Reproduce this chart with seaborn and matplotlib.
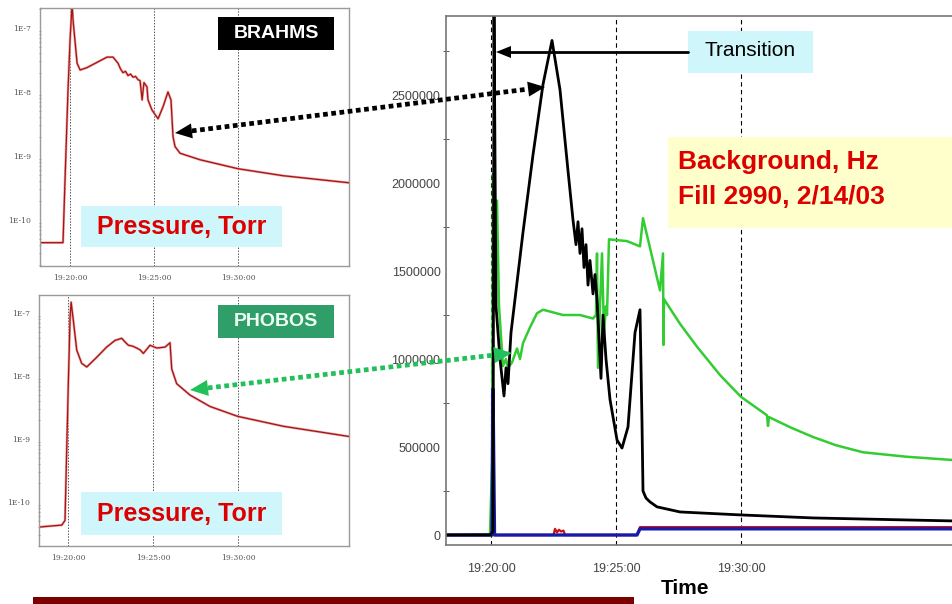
import numpy as np
import pandas as pd
import matplotlib
matplotlib.use("Agg")
import matplotlib.pyplot as plt
from matplotlib.patches import Rectangle, Polygon
from matplotlib.ticker import FixedLocator, FixedFormatter, MultipleLocator, LogLocator, NullFormatter
import seaborn as sns

# ---------------- data (time = minutes after 19:00) ----------------
brahms_t = [18.21, 19.52, 19.58, 19.70, 19.88, 20.00, 20.12, 20.18, 20.42, 20.60, 21.01, 21.61,
            22.20, 22.56, 22.86, 23.00, 23.15, 23.30, 23.45, 23.60, 23.75, 23.90, 24.05, 24.17,
            24.29, 24.40, 24.58, 24.64, 24.88, 25.24, 25.54, 25.83, 26.01, 26.13, 26.25, 26.55,
            27.74, 30.00, 32.68, 36.61]
brahms_p = [4.4e-11, 4.4e-11, 4.4e-11, 4.2e-10, 1.1e-8, 6.5e-8, 2.4e-7, 1.3e-7, 2.8e-8, 2.2e-8,
            2.4e-8, 2.9e-8, 3.5e-8, 3.5e-8, 2.8e-8, 2.3e-8, 2.0e-8, 2.1e-8, 1.8e-8, 1.9e-8,
            1.7e-8, 1.75e-8, 1.55e-8, 1.5e-8, 7.5e-9, 1.4e-8, 1.2e-8, 7.5e-9, 5.2e-9, 3.8e-9,
            5.9e-9, 1.0e-8, 7.5e-9, 2.0e-9, 1.4e-9, 1.1e-9, 8.7e-10, 6.3e-10, 4.9e-10, 3.8e-10]

phobos_t = [18.29, 19.63, 19.82, 19.92, 20.02, 20.12, 20.18, 20.31, 20.51, 20.80, 21.10, 21.69,
            22.27, 22.76, 23.16, 23.35, 23.55, 23.80, 24.04, 24.25, 24.43, 24.82, 25.22, 25.71,
            26.00, 26.10, 26.39, 27.18, 28.35, 29.98, 32.66, 36.53]
phobos_p = [4.0e-11, 4.3e-11, 5.1e-11, 6.7e-10, 8.6e-9, 8.7e-8, 1.5e-7, 7.7e-8, 2.6e-8, 1.6e-8,
            1.4e-8, 2.0e-8, 2.9e-8, 3.7e-8, 4.0e-8, 3.5e-8, 3.1e-8, 3.0e-8, 2.8e-8, 2.6e-8,
            2.3e-8, 3.1e-8, 2.8e-8, 2.9e-8, 3.4e-8, 1.3e-8, 7.6e-9, 5.0e-9, 3.3e-9, 2.3e-9,
            1.6e-9, 1.1e-9]

black_t = [18.20, 19.96, 20.08, 20.12, 20.20, 20.36, 20.52, 20.60, 20.68, 20.80, 20.96, 21.28,
           21.68, 22.08, 22.44, 22.76, 23.08, 23.28, 23.40, 23.48, 23.56, 23.64, 23.72, 23.80,
           23.88, 23.96, 24.08, 24.16, 24.24, 24.40, 24.48, 24.60, 24.76, 25.04, 25.24, 25.48,
           25.76, 25.96, 26.04, 26.08, 26.20, 26.36, 26.64, 27.56, 30.00, 32.88, 35.16, 38.48]
black_v = [0, 0, 20000, 3000000, 1300000, 1000000, 790000, 950000, 860000, 1150000, 1340000,
           1720000, 2160000, 2560000, 2810000, 2530000, 2070000, 1790000, 1650000, 1780000,
           1600000, 1740000, 1520000, 1650000, 1420000, 1560000, 1370000, 1480000, 1340000,
           890000, 1250000, 1000000, 770000, 540000, 494000, 614000, 1150000, 1280000, 640000,
           250000, 210000, 188000, 160000, 131000, 114000, 97000, 90000, 80000]

green_t = [18.20, 19.96, 20.04, 20.08, 20.16, 20.24, 20.32, 20.48, 20.60, 20.68, 20.84, 21.04,
           21.16, 21.28, 21.56, 21.84, 22.08, 22.88, 23.56, 24.08, 24.20, 24.24, 24.28, 24.36,
           24.44, 24.52, 24.60, 24.64, 24.72, 25.44, 25.96, 26.08, 26.76, 26.88, 26.90, 26.92,
           27.56, 28.24, 29.16, 30.00, 31.04, 31.08, 31.12, 32.00, 32.88, 33.80, 34.88, 36.60,
           38.48]
green_v = [0, 5000, 400000, 2050000, 1600000, 1900000, 1300000, 960000, 1000000, 950000, 980000,
           1060000, 1000000, 1090000, 1180000, 1260000, 1280000, 1250000, 1250000, 1230000,
           1250000, 1600000, 950000, 1300000, 1600000, 1150000, 1300000, 1250000, 1680000,
           1670000, 1640000, 1800000, 1390000, 1600000, 1080000, 1340000, 1200000, 1070000,
           909000, 785000, 680000, 620000, 670000, 610000, 557000, 510000, 470000, 445000,
           426000]

blue_t = [18.20, 20.04, 20.08, 20.14, 25.84, 25.96, 38.48]
blue_v = [0, 0, 830000, 0, 0, 35000, 35000]

red_t = [18.20, 22.50, 22.56, 22.64, 22.72, 22.80, 22.90, 22.96, 25.84, 25.96, 38.48]
red_v = [0, 0, 35000, 15000, 30000, 20000, 25000, 0, 0, 45000, 45000]

time_ticks = [20, 25, 30]
time_labels = ["19:20:00", "19:25:00", "19:30:00"]
rate_ticks = [0, 500000, 1000000, 1500000, 2000000, 2500000]
rate_labels = ["0", "500000", "1000000", "1500000", "2000000", "2500000"]
pressure_ticks = [1e-10, 1e-9, 1e-8, 1e-7]
pressure_labels = ["1E-10", "1E-9", "1E-8", "1E-7"]

# ---------------- figure ----------------
sns.set_style("white")
plt.rcParams['font.family'] = ['Liberation Sans', 'DejaVu Sans']

W, H = 953, 604
fig = plt.figure(figsize=(W / 100, H / 100), dpi=100)
fig.patch.set_facecolor("white")


def box(l, t, r, b):
    return [l / W, (H - b) / H, (r - l) / W, (b - t) / H]


def small_panel(rect, t, p, xlim, ylim):
    ax = fig.add_axes(rect)
    df = pd.DataFrame({"t": t, "p": p})
    ax.set_yscale("log")
    sns.lineplot(data=df, x="t", y="p", estimator=None, sort=False,
                 color="#f2a0a0", lw=1.8, ax=ax)
    sns.lineplot(data=df, x="t", y="p", estimator=None, sort=False,
                 color="#a01515", lw=0.9, ax=ax)
    ax.set_xlim(*xlim)
    ax.set_ylim(*ylim)
    for tt in time_ticks:
        ax.axvline(tt, color="#555555", lw=0.7, ls=(0, (1.5, 1.5)), zorder=0)
    ax.xaxis.set_major_locator(FixedLocator(time_ticks))
    ax.xaxis.set_major_formatter(FixedFormatter(time_labels))
    ax.yaxis.set_major_locator(FixedLocator(pressure_ticks))
    ax.yaxis.set_major_formatter(FixedFormatter(pressure_labels))
    ax.yaxis.set_minor_locator(LogLocator(base=10, subs=np.arange(2, 10)))
    ax.yaxis.set_minor_formatter(NullFormatter())
    ax.tick_params(axis="both", which="major", labelsize=5.5, colors="#555555",
                   length=3, width=0.6, direction="inout", pad=5)
    ax.tick_params(axis="y", which="minor", length=2, width=0.5, color="#777777",
                   direction="inout", left=True)
    ax.tick_params(axis="x", which="major", pad=4)
    for lab in ax.get_xticklabels() + ax.get_yticklabels():
        lab.set_family(["DejaVu Serif"])
    for s in ax.spines.values():
        s.set_color("#9a9a9a")
        s.set_linewidth(1.0)
    ax.set_xlabel("")
    ax.set_ylabel("")
    ax.set_facecolor("white")
    return ax


ax_b = small_panel(box(40, 8, 349, 266), brahms_t, brahms_p, (18.21, 36.61), (1.9e-11, 2.05e-7))
ax_p = small_panel(box(39, 295, 349, 546), phobos_t, phobos_p, (18.29, 36.53), (2.0e-11, 1.95e-7))

# main panel
ax = fig.add_axes(box(446, 16, 960, 545))
for tt in time_ticks:
    ax.axvline(tt, color="black", lw=0.8, ls=(0, (4, 3)), zorder=0)
sns.lineplot(x=red_t, y=red_v, estimator=None, sort=False, color="#cc1111", lw=1.6, ax=ax)
sns.lineplot(x=green_t, y=green_v, estimator=None, sort=False, color="#33cc33", lw=1.8, ax=ax)
sns.lineplot(x=blue_t, y=blue_v, estimator=None, sort=False, color="#1a1aaa", lw=2.4, ax=ax)
sns.lineplot(x=black_t, y=black_v, estimator=None, sort=False, color="black", lw=2.0, ax=ax)
ax.set_xlim(18.2, 38.76)
ax.set_ylim(-56800, 2949000)
ax.xaxis.set_major_locator(FixedLocator(time_ticks))
ax.xaxis.set_major_formatter(FixedFormatter(time_labels))
ax.yaxis.set_major_locator(FixedLocator(rate_ticks))
ax.yaxis.set_major_formatter(FixedFormatter(rate_labels))
ax.yaxis.set_minor_locator(MultipleLocator(250000))
ax.tick_params(axis="both", which="major", labelsize=9, colors="#444444",
               length=6, width=0.8, direction="inout")
ax.tick_params(axis="y", which="major", pad=1)
ax.tick_params(axis="x", which="major", pad=10)
ax.tick_params(axis="y", which="minor", length=4, width=0.7, color="#555555",
               direction="inout", left=True)
for s in ax.spines.values():
    s.set_color("#777777")
    s.set_linewidth(1.2)
ax.set_xlabel("")
ax.set_ylabel("")
ax.set_facecolor("white")

# ---------------- overlay for annotations (pixel coordinates) ----------------
ov = fig.add_axes([0, 0, 1, 1], zorder=10)
ov.set_xlim(0, W)
ov.set_ylim(H, 0)
ov.axis("off")
ov.patch.set_alpha(0)


def rect(l, t, r, b, color):
    ov.add_patch(Rectangle((l, t), r - l, b - t, facecolor=color, edgecolor="none", zorder=1))


def head(tip, tail, L, Wd, color):
    tip = np.array(tip, float)
    tail = np.array(tail, float)
    d = (tip - tail) / np.linalg.norm(tip - tail)
    n = np.array([-d[1], d[0]])
    base = tip - L * d
    ov.add_patch(Polygon([tip, base + n * Wd / 2, base - n * Wd / 2],
                         closed=True, facecolor=color, edgecolor="none", zorder=3))
    return base


def dotted_double(p1, p2, color, L, Wd):
    b1 = head(p1, p2, L, Wd, color)
    b2 = head(p2, p1, L, Wd, color)
    ov.plot([b1[0], b2[0]], [b1[1], b2[1]], color=color, lw=3.4,
            ls=(0, (1.0, 0.75)), solid_capstyle="butt", dash_capstyle="butt", zorder=2)


# label boxes
rect(218, 17, 334, 50, "black")
ov.text(276, 34, "BRAHMS", color="white", fontsize=14, fontweight="bold", ha="center", va="center", zorder=4)
rect(218, 305, 334, 338, "#2f9e68")
ov.text(276, 322, "PHOBOS", color="#eefff4", fontsize=14, fontweight="bold", ha="center", va="center", zorder=4)

rect(81, 206, 282, 247, "#cff6fa")
ov.text(181.5, 227, "Pressure, Torr", color="#dd0000", fontsize=18, fontweight="bold", ha="center", va="center", zorder=4)
rect(81, 492, 282, 535, "#cff6fa")
ov.text(181.5, 514, "Pressure, Torr", color="#dd0000", fontsize=18, fontweight="bold", ha="center", va="center", zorder=4)

rect(688, 31, 813, 73, "#cff6fa")
ov.text(750, 51, "Transition", color="black", fontsize=15, ha="center", va="center", zorder=4)
b = head((496, 52), (688, 52), 15, 12, "black")
ov.plot([b[0], 688], [52, 52], color="black", lw=2.0, zorder=2)

rect(668, 137, 960, 228, "#ffffcc")
ov.text(678, 162, "Background, Hz", color="#dd0000", fontsize=19, fontweight="bold", ha="left", va="center", zorder=4)
ov.text(678, 197, "Fill 2990, 2/14/03", color="#dd0000", fontsize=19, fontweight="bold", ha="left", va="center", zorder=4)

dotted_double((175, 133), (545, 87), "black", 17, 15)
dotted_double((190, 390), (512, 353), "#22c05a", 18, 16)

ov.text(685, 589, "Time", color="black", fontsize=15, fontweight="bold", ha="center", va="center", zorder=4)
rect(33, 597, 634, 606, "#7d0000")

fig.savefig("out.png", dpi=100, facecolor="white")
